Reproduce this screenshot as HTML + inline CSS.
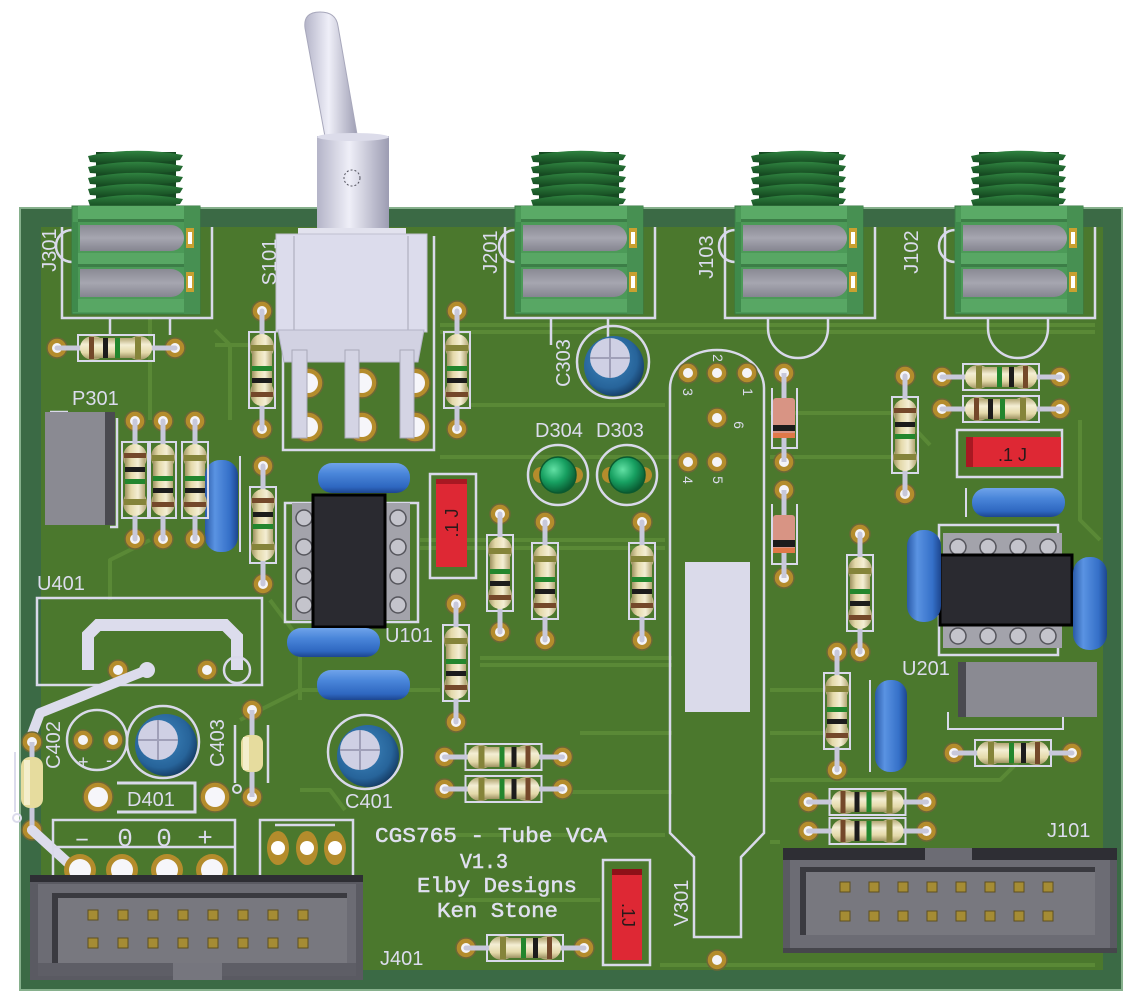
<!DOCTYPE html>
<html><head><meta charset="utf-8"><title>CGS765 - Tube VCA PCB</title>
<style>
html,body{margin:0;padding:0;background:#ffffff;overflow:hidden;}
svg{display:block;}
.s{fill:none;stroke:#d9d9ea;stroke-width:2.5;}
.t{font-family:"Liberation Sans",sans-serif;font-size:20px;fill:#dcdcee;}
.tr{fill:none;stroke:#5a8936;stroke-width:4;stroke-linejoin:round;}
.pin{fill:#a58c34;stroke:#5e5020;stroke-width:1;}
</style></head><body>
<svg width="1130" height="998" viewBox="0 0 1130 998" xmlns="http://www.w3.org/2000/svg">
<defs>
<linearGradient id="beige" x1="0" y1="0" x2="0" y2="1">
<stop offset="0" stop-color="#b3a774"/><stop offset=".35" stop-color="#f4eed4"/><stop offset=".7" stop-color="#e4d9aa"/><stop offset="1" stop-color="#9e9362"/>
</linearGradient>
<linearGradient id="bluH" x1="0" y1="0" x2="0" y2="1">
<stop offset="0" stop-color="#6fa3ea"/><stop offset=".35" stop-color="#4a86da"/><stop offset=".8" stop-color="#2e67c0"/><stop offset="1" stop-color="#1d468f"/>
</linearGradient>
<linearGradient id="bluV" x1="0" y1="0" x2="1" y2="0">
<stop offset="0" stop-color="#2a5aa8"/><stop offset=".3" stop-color="#5a93e2"/><stop offset=".75" stop-color="#3570c8"/><stop offset="1" stop-color="#1d468f"/>
</linearGradient>
<radialGradient id="elec" cx=".42" cy=".4" r=".62">
<stop offset="0" stop-color="#3f88c0"/><stop offset=".75" stop-color="#27649a"/><stop offset="1" stop-color="#163e68"/>
</radialGradient>
<radialGradient id="led" cx=".38" cy=".35" r=".65">
<stop offset="0" stop-color="#62e0a4"/><stop offset=".55" stop-color="#17a061"/><stop offset="1" stop-color="#0a5e34"/>
</radialGradient>
<linearGradient id="lev" x1="0" y1="0" x2="1" y2="0">
<stop offset="0" stop-color="#b4b4c8"/><stop offset=".45" stop-color="#efeff8"/><stop offset="1" stop-color="#9c9cb2"/>
</linearGradient>
<linearGradient id="slot" x1="0" y1="0" x2="0" y2="1">
<stop offset="0" stop-color="#8a8a94"/><stop offset=".5" stop-color="#a6a6b0"/><stop offset="1" stop-color="#858590"/>
</linearGradient>
<linearGradient id="thr" x1="0" y1="0" x2="0" y2="1">
<stop offset="0" stop-color="#2f8340"/><stop offset="1" stop-color="#154a20"/>
</linearGradient>

<g id="pad"><circle r="10" fill="#b48c2c" stroke="#6c6836" stroke-width="1.5"/><circle r="5" fill="#f4f4f8"/></g>
<g id="bpad"><circle r="15" fill="#b48c2c" stroke="#6c6836" stroke-width="1.5"/><circle r="10" fill="#f6f6fa"/></g>

<g id="rb">
<rect x="-38" y="-13" width="76" height="26" fill="none" stroke="#d9d9ea" stroke-width="2"/>
<use href="#pad" x="-59" y="0"/><use href="#pad" x="59" y="0"/>
<line x1="-59" y1="0" x2="59" y2="0" stroke="#c8c8da" stroke-width="5" stroke-linecap="round"/>
<ellipse cx="-23" cy="0" rx="13" ry="12" fill="url(#beige)"/>
<ellipse cx="23" cy="0" rx="13" ry="12" fill="url(#beige)"/>
<rect x="-24" y="-10" width="48" height="20" fill="url(#beige)"/>
</g>
<g id="rA"><use href="#rb"/>
<rect x="-27" y="-11" width="5" height="22" fill="#74482a"/>
<rect x="-13" y="-10" width="5" height="20" fill="#1c1c1c"/>
<rect x="-1" y="-10" width="5" height="20" fill="#23862e"/>
<rect x="19" y="-11" width="6" height="22" fill="#85843a"/>
</g>
<g id="rB"><use href="#rb"/>
<rect x="-25" y="-11" width="6" height="22" fill="#85843a"/>
<rect x="-4" y="-10" width="5" height="20" fill="#23862e"/>
<rect x="8" y="-10" width="5" height="20" fill="#1c1c1c"/>
<rect x="22" y="-11" width="5" height="22" fill="#74482a"/>
</g>

<g id="jack">
<rect x="24" y="152" width="80" height="56" fill="#164a22"/>
<path d="M16,156 Q63,146 111,155 L108,160 Q63,166 18,162 Z" fill="url(#thr)"/>
<path d="M16,167 Q63,157 111,166 L108,171 Q63,177 18,173 Z" fill="url(#thr)"/>
<path d="M16,178 Q63,168 111,177 L108,182 Q63,188 18,184 Z" fill="url(#thr)"/>
<path d="M16,189 Q63,179 111,188 L108,193 Q63,199 18,195 Z" fill="url(#thr)"/>
<path d="M16,200 Q63,190 111,199 L108,204 Q63,210 18,206 Z" fill="url(#thr)"/>
<rect x="0" y="206" width="128" height="108" fill="#4c9a58" stroke="#3a7a45" stroke-width="1"/>
<rect x="6" y="206" width="106" height="13" fill="#5aaa66"/>
<rect x="6" y="219" width="106" height="3" fill="#3c7e47"/>
<path d="M8,225 H99 a13,13 0 0 1 0,26 H8 Z" fill="url(#slot)"/>
<rect x="6" y="253" width="106" height="13" fill="#58a764"/>
<rect x="6" y="264" width="106" height="3" fill="#3c7e47"/>
<path d="M8,269 H99 a14,14 0 0 1 0,28 H8 Z" fill="url(#slot)"/>
<rect x="6" y="299" width="106" height="13" fill="#58a764"/>
<rect x="112" y="206" width="16" height="108" fill="#479052"/>
<rect x="114" y="228" width="8" height="20" fill="#c8a030"/><rect x="116" y="232" width="4" height="12" fill="#ffffff"/>
<rect x="114" y="272" width="8" height="20" fill="#c8a030"/><rect x="116" y="276" width="4" height="12" fill="#ffffff"/>
<rect x="0" y="222" width="6" height="90" fill="#3f8a4c"/>
</g>
</defs>

<!-- background -->
<rect x="0" y="0" width="1130" height="998" fill="#ffffff"/>

<!-- board -->
<rect x="20" y="208" width="1102" height="782" fill="#3b6a45" stroke="#86b08c" stroke-width="2"/>
<rect x="41" y="227" width="1062" height="743" fill="#4b782d"/>

<!-- traces -->
<g class="tr">
<path d="M440,325 H1095"/><path d="M440,332 H1095"/>
<path d="M215,345 L250,345"/>
<path d="M150,318 V420"/><path d="M215,330 L230,345 V420"/>
<path d="M440,457 H680"/><path d="M770,457 H900"/>
<path d="M470,405 H665"/>
<path d="M420,540 H665"/><path d="M420,548 H665"/>
<path d="M480,658 H672"/><path d="M480,665 H672"/>
<path d="M580,733 H672"/><path d="M770,733 H830"/>
<path d="M570,792 H672"/><path d="M770,780 H1000 L1040,740"/>
<path d="M440,835 H665"/><path d="M770,842 H780"/>
<path d="M460,900 H600"/><path d="M660,965 H1095"/>
<path d="M380,690 H440"/><path d="M270,600 L300,640 V700"/>
<path d="M770,413 H900 L930,445"/>
<path d="M770,690 H830"/>
<path d="M1080,420 V520 L1100,540"/>
<path d="M110,600 V560 L150,540"/>
<path d="M240,720 L300,690 H440"/>
<path d="M300,790 H330 L345,810"/>
</g>

<!-- jack silkscreen -->
<g class="s">
<path d="M62,227 V318 H212 V227"/>
<path d="M505,227 V318 H655 V227"/>
<path d="M725,227 V318 H875 V227"/>
<path d="M945,227 V318 H1095 V227"/>
<path d="M110,318 V335 M170,318 V335"/>
<path d="M551,318 V345 M608,318 V345"/>
<path d="M768,318 V328 A30,30 0 0 0 828,328 V318"/>
<path d="M988,318 V328 A30,30 0 0 0 1048,328 V318"/>
<path d="M72,230 A16,16 0 0 0 72,262"/>
<path d="M515,230 A16,16 0 0 0 515,262"/>
<path d="M735,230 A16,16 0 0 0 735,262"/>
<path d="M955,230 A16,16 0 0 0 955,262"/>
</g>

<!-- jacks -->
<use href="#jack" x="72" y="0"/>
<use href="#jack" x="515" y="0"/>
<use href="#jack" x="735" y="0"/>
<use href="#jack" x="955" y="0"/>

<!-- switch silkscreen and pads -->
<path class="s" d="M283,236 V450 H434 V236"/>
<use href="#bpad" x="308" y="383"/><use href="#bpad" x="362" y="383"/><use href="#bpad" x="415" y="383"/>
<use href="#bpad" x="308" y="427"/><use href="#bpad" x="362" y="427"/><use href="#bpad" x="415" y="427"/>

<!-- toggle switch -->
<path d="M305,28 Q303,12 320,12 Q336,12 338,26 L358,140 L326,142 Z" fill="url(#lev)" stroke="#a8a8bc" stroke-width="1"/>
<rect x="317" y="136" width="72" height="96" fill="url(#lev)"/>
<ellipse cx="353" cy="137" rx="36" ry="4" fill="#dcdcea"/>
<circle cx="352" cy="178" r="8" fill="none" stroke="#555560" stroke-width="1" stroke-dasharray="2 2"/>
<rect x="298" y="228" width="108" height="8" fill="#e2e2ee"/>
<rect x="276" y="234" width="151" height="98" fill="#dcdcec" stroke="#c0c0d0" stroke-width="1"/>
<line x1="294" y1="236" x2="294" y2="330" stroke="#b8b8c8" stroke-width="1.5"/>
<line x1="408" y1="236" x2="408" y2="330" stroke="#b8b8c8" stroke-width="1.5"/>
<path d="M278,330 H424 L418,362 H284 Z" fill="#d2d2e2" stroke="#b4b4c6" stroke-width="1"/>
<rect x="292" y="350" width="15" height="88" fill="#d4d4e4" stroke="#a8a8b8" stroke-width="1"/>
<rect x="345" y="350" width="14" height="88" fill="#d4d4e4" stroke="#a8a8b8" stroke-width="1"/>
<rect x="400" y="350" width="14" height="88" fill="#d4d4e4" stroke="#a8a8b8" stroke-width="1"/>

<!-- P301 -->
<path class="s" d="M50,412 H68 M117,418 V527 H110"/>
<rect x="45" y="412" width="60" height="113" fill="#8a8a92"/>
<rect x="105" y="412" width="10" height="113" fill="#4a4a50"/>

<!-- U401 -->
<rect class="s" x="37" y="598" width="225" height="87"/>
<path d="M88,670 V635 L98,625 H225 L237,637 V670" fill="none" stroke="#dcdcec" stroke-width="12"/>
<use href="#pad" x="118" y="670"/><use href="#pad" x="207" y="670"/>
<circle cx="237" cy="670" r="13" class="s"/>
<path d="M147,670 L40,713 L28,745" fill="none" stroke="#dcdcec" stroke-width="10" stroke-linecap="round" stroke-linejoin="round"/>
<circle cx="147" cy="670" r="8" fill="#dcdcec"/>

<!-- C402 footprint -->
<circle class="s" cx="97" cy="740" r="30"/>
<use href="#pad" x="83" y="740"/><use href="#pad" x="113" y="740"/>
<text class="t" x="78" y="768" style="font-size:18px">+</text>
<text class="t" x="106" y="766" style="font-size:18px">-</text>

<!-- C402 electrolytic -->
<circle class="s" cx="163" cy="742" r="36"/>
<circle cx="166" cy="745" r="31" fill="url(#elec)"/>
<circle cx="158" cy="740" r="20" fill="#cfd0e4"/>
<path d="M158,720 V760 M138,740 H178" stroke="#a0a0b8" stroke-width="2"/>

<!-- C403 -->
<path class="s" d="M235,725 V783 M268,725 V783"/>
<circle cx="237" cy="789" r="4" class="s" style="stroke-width:2"/>
<use href="#pad" x="252" y="710"/><use href="#pad" x="252" y="797"/>
<line x1="252" y1="710" x2="252" y2="797" stroke="#c8c8da" stroke-width="5"/>
<rect x="241" y="735" width="22" height="37" rx="8" fill="#e6dc9e"/>
<rect x="243" y="737" width="6" height="33" fill="#f4eecc"/>

<!-- D401 -->
<use href="#bpad" x="98" y="797"/><use href="#bpad" x="215" y="797"/>
<path class="s" d="M117,783 H195 V812 H117" style="stroke-width:3"/>
<text class="t" x="127" y="806">D401</text>

<!-- left edge resistor -->
<path d="M15,752 V812" stroke="#dcdcec" stroke-width="2"/>
<circle cx="17" cy="818" r="4" fill="none" stroke="#dcdcec" stroke-width="2"/>
<use href="#pad" x="32" y="742"/><use href="#pad" x="32" y="830"/>
<line x1="32" y1="742" x2="32" y2="830" stroke="#c8c8da" stroke-width="5"/>
<rect x="21" y="757" width="22" height="51" rx="9" fill="#e6dc9e"/>
<rect x="24" y="760" width="6" height="45" fill="#f4eecc"/>
<path d="M32,830 L78,872" stroke="#dcdcec" stroke-width="10" stroke-linecap="round"/>

<!-- C401 -->
<circle class="s" cx="365" cy="752" r="37"/>
<circle cx="368" cy="756" r="31" fill="url(#elec)"/>
<circle cx="360" cy="750" r="20" fill="#cfd0e4"/>
<path d="M360,730 V770 M340,750 H380" stroke="#a0a0b8" stroke-width="2"/>
<text class="t" x="345" y="808">C401</text>

<!-- power terminal -->
<path class="s" d="M53,878 V820 H235 V878 M53,847 H235"/>
<text x="82" y="846" font-family="Liberation Mono, monospace" font-size="26" fill="#dcdcee" text-anchor="middle">–</text>
<text x="125" y="846" font-family="Liberation Mono, monospace" font-size="26" fill="#dcdcee" text-anchor="middle">0</text>
<text x="164" y="846" font-family="Liberation Mono, monospace" font-size="26" fill="#dcdcee" text-anchor="middle">0</text>
<text x="205" y="846" font-family="Liberation Mono, monospace" font-size="26" fill="#dcdcee" text-anchor="middle">+</text>
<circle cx="80" cy="870" r="16" fill="#b48c2c"/><circle cx="80" cy="870" r="11" fill="#f6f6fa"/>
<circle cx="122" cy="870" r="16" fill="#b48c2c"/><circle cx="122" cy="870" r="11" fill="#f6f6fa"/>
<circle cx="167" cy="870" r="16" fill="#b48c2c"/><circle cx="167" cy="870" r="11" fill="#f6f6fa"/>
<circle cx="212" cy="870" r="16" fill="#b48c2c"/><circle cx="212" cy="870" r="11" fill="#f6f6fa"/>

<!-- 3 pin header -->
<path class="s" d="M260,878 V820 H353 V878 M275,825 H335"/>
<ellipse cx="278" cy="848" rx="11" ry="17" fill="#b48c2c"/><circle cx="278" cy="848" r="7" fill="#fff"/>
<ellipse cx="307" cy="848" rx="11" ry="17" fill="#b48c2c"/><circle cx="307" cy="848" r="7" fill="#fff"/>
<ellipse cx="335" cy="848" rx="11" ry="17" fill="#b48c2c"/><circle cx="335" cy="848" r="7" fill="#fff"/>

<!-- J401 connector -->
<rect x="30" y="875" width="333" height="105" fill="#5a5a62"/>
<rect x="30" y="875" width="333" height="7" fill="#2e2e34"/>
<rect x="38" y="884" width="318" height="92" fill="#6c6c74"/>
<rect x="52" y="893" width="295" height="70" fill="#78787f"/>
<rect x="52" y="893" width="295" height="5" fill="#3a3a40"/>
<rect x="52" y="893" width="6" height="70" fill="#3a3a40"/>
<rect x="38" y="963" width="135" height="13" fill="#5e5e66"/>
<rect x="222" y="963" width="134" height="13" fill="#5e5e66"/>
<rect x="173" y="963" width="49" height="17" fill="#76767e"/>
<g class="pin">
<rect x="88" y="910" width="10" height="10"/><rect x="118" y="910" width="10" height="10"/><rect x="148" y="910" width="10" height="10"/><rect x="178" y="910" width="10" height="10"/>
<rect x="208" y="910" width="10" height="10"/><rect x="238" y="910" width="10" height="10"/><rect x="268" y="910" width="10" height="10"/><rect x="298" y="910" width="10" height="10"/>
<rect x="88" y="938" width="10" height="10"/><rect x="118" y="938" width="10" height="10"/><rect x="148" y="938" width="10" height="10"/><rect x="178" y="938" width="10" height="10"/>
<rect x="208" y="938" width="10" height="10"/><rect x="238" y="938" width="10" height="10"/><rect x="268" y="938" width="10" height="10"/><rect x="298" y="938" width="10" height="10"/>
</g>
<text class="t" x="380" y="965">J401</text>

<!-- U101 -->
<rect class="s" x="285" y="503" width="133" height="119"/>
<rect x="292" y="503" width="118" height="117" fill="#a3a3ab"/>
<g fill="#c4c4cc" stroke="#55555c" stroke-width="1.5">
<circle cx="304" cy="518" r="8"/><circle cx="304" cy="547" r="8"/><circle cx="304" cy="576" r="8"/><circle cx="304" cy="605" r="8"/>
<circle cx="398" cy="518" r="8"/><circle cx="398" cy="547" r="8"/><circle cx="398" cy="576" r="8"/><circle cx="398" cy="605" r="8"/>
</g>
<rect x="313" y="495" width="72" height="132" fill="#2a2a30" stroke="#000" stroke-width="3"/>
<text class="t" x="385" y="642">U101</text>

<!-- blue caps -->
<rect x="318" y="463" width="92" height="30" rx="14" fill="url(#bluH)"/>
<rect x="287" y="628" width="93" height="29" rx="14" fill="url(#bluH)"/>
<rect x="317" y="670" width="93" height="30" rx="14" fill="url(#bluH)"/>
<rect x="972" y="488" width="93" height="29" rx="14" fill="url(#bluH)"/>
<rect x="205" y="460" width="33" height="92" rx="15" fill="url(#bluV)"/>
<rect x="875" y="680" width="32" height="92" rx="15" fill="url(#bluV)"/>
<path class="s" d="M240,456 V552 M870,680 V772 M966,488 V517" style="stroke-width:2"/>

<!-- red cap middle -->
<rect class="s" x="430" y="474" width="46" height="104"/>
<rect x="436" y="479" width="31" height="88" fill="#de2834"/>
<rect x="436" y="479" width="31" height="5" fill="#a81822"/>
<text x="0" y="0" transform="translate(458,523) rotate(-90)" font-family="Liberation Sans, sans-serif" font-size="18" fill="#2a1a1a" text-anchor="middle">.1 J</text>

<!-- C303 -->
<circle class="s" cx="613" cy="362" r="36"/>
<circle cx="614" cy="366" r="30" fill="url(#elec)"/>
<circle cx="610" cy="358" r="20" fill="#cfd0e4"/>
<path d="M610,338 V378 M590,358 H630" stroke="#a0a0b8" stroke-width="2"/>

<!-- LEDs -->
<circle class="s" cx="558" cy="475" r="30"/>
<circle class="s" cx="627" cy="475" r="30"/>
<circle cx="541" cy="475" r="8" fill="#b48c2c"/><circle cx="575" cy="475" r="8" fill="#b48c2c"/>
<circle cx="610" cy="475" r="8" fill="#b48c2c"/><circle cx="644" cy="475" r="8" fill="#b48c2c"/>
<circle cx="558" cy="475" r="18" fill="url(#led)" stroke="#0a5a30" stroke-width="1.5"/>
<circle cx="627" cy="475" r="18" fill="url(#led)" stroke="#0a5a30" stroke-width="1.5"/>
<text class="t" x="535" y="437">D304</text>
<text class="t" x="596" y="437">D303</text>

<!-- tube V301 -->
<path class="s" d="M670,388 A47,38 0 0 1 764,388 V833 L741,857 V937 H694 V857 L670,833 Z"/>
<use href="#pad" x="688" y="373"/><use href="#pad" x="717" y="373"/><use href="#pad" x="747" y="373"/>
<use href="#pad" x="717" y="418"/><use href="#pad" x="688" y="462"/><use href="#pad" x="717" y="462"/>
<g font-family="Liberation Sans, sans-serif" font-size="14" fill="#dcdcee" text-anchor="middle">
<text transform="translate(713,358) rotate(90)">2</text>
<text transform="translate(683,392) rotate(90)">3</text>
<text transform="translate(743,392) rotate(90)">1</text>
<text transform="translate(734,425) rotate(90)">6</text>
<text transform="translate(683,480) rotate(90)">4</text>
<text transform="translate(713,480) rotate(90)">5</text>
</g>
<rect x="685" y="562" width="65" height="150" fill="#dadaea"/>
<use href="#pad" x="717" y="960"/>
<text class="t" transform="translate(688,903) rotate(-90)" text-anchor="middle">V301</text>

<!-- diodes -->
<path class="s" d="M772,388 V448 H797 V388 M772,504 V564 H797 V504" style="stroke-width:2"/>
<use href="#pad" x="784" y="373"/><use href="#pad" x="784" y="462"/>
<use href="#pad" x="784" y="490"/><use href="#pad" x="784" y="578"/>
<line x1="784" y1="373" x2="784" y2="462" stroke="#c8c8da" stroke-width="5"/>
<line x1="784" y1="490" x2="784" y2="578" stroke="#c8c8da" stroke-width="5"/>
<rect x="773" y="398" width="22" height="40" rx="3" fill="#d89484"/>
<rect x="773" y="425" width="22" height="6" fill="#1c1c1c"/>
<rect x="773" y="433" width="22" height="5" fill="#e07848"/>
<rect x="773" y="515" width="22" height="38" rx="3" fill="#d89484"/>
<rect x="773" y="540" width="22" height="7" fill="#1c1c1c"/>
<rect x="773" y="548" width="22" height="5" fill="#e07848"/>

<!-- red cap top right -->
<rect class="s" x="957" y="430" width="105" height="47"/>
<rect x="966" y="437" width="95" height="30" fill="#de2834"/>
<rect x="966" y="437" width="7" height="30" fill="#a81822"/>
<text x="998" y="461" font-family="Liberation Sans, sans-serif" font-size="18" fill="#2a1a1a">.1 J</text>

<!-- U201 -->
<rect class="s" x="939" y="525" width="119" height="130"/>
<rect x="943" y="533" width="119" height="115" fill="#a3a3ab"/>
<g fill="#c4c4cc" stroke="#55555c" stroke-width="1.5">
<circle cx="958" cy="547" r="8"/><circle cx="988" cy="547" r="8"/><circle cx="1018" cy="547" r="8"/><circle cx="1048" cy="547" r="8"/>
<circle cx="958" cy="636" r="8"/><circle cx="988" cy="636" r="8"/><circle cx="1018" cy="636" r="8"/><circle cx="1048" cy="636" r="8"/>
</g>
<rect x="940" y="555" width="132" height="70" fill="#2a2a30" stroke="#000" stroke-width="3"/>
<rect x="907" y="530" width="34" height="92" rx="16" fill="url(#bluV)"/>
<rect x="1073" y="557" width="34" height="93" rx="16" fill="url(#bluV)"/>
<text class="t" x="902" y="675">U201</text>

<!-- grey block right -->
<path class="s" d="M948,712 V729 H1063 V712" style="stroke-width:2"/>
<rect x="958" y="662" width="139" height="55" fill="#8a8a92"/>
<rect x="958" y="662" width="8" height="55" fill="#4a4a50"/>

<!-- J101 connector -->
<rect x="783" y="848" width="334" height="105" fill="#5a5a62"/>
<rect x="783" y="848" width="142" height="12" fill="#2e2e34"/>
<rect x="972" y="848" width="145" height="12" fill="#2e2e34"/>
<rect x="925" y="848" width="47" height="12" fill="#6c6c74"/>
<rect x="790" y="860" width="320" height="88" fill="#6c6c74"/>
<rect x="800" y="867" width="295" height="68" fill="#78787f"/>
<rect x="800" y="867" width="295" height="5" fill="#3a3a40"/>
<rect x="800" y="867" width="6" height="68" fill="#3a3a40"/>
<rect x="783" y="948" width="334" height="5" fill="#46464c"/>
<g class="pin">
<rect x="840" y="882" width="10" height="10"/><rect x="869" y="882" width="10" height="10"/><rect x="898" y="882" width="10" height="10"/><rect x="927" y="882" width="10" height="10"/>
<rect x="956" y="882" width="10" height="10"/><rect x="985" y="882" width="10" height="10"/><rect x="1014" y="882" width="10" height="10"/><rect x="1043" y="882" width="10" height="10"/>
<rect x="840" y="911" width="10" height="10"/><rect x="869" y="911" width="10" height="10"/><rect x="898" y="911" width="10" height="10"/><rect x="927" y="911" width="10" height="10"/>
<rect x="956" y="911" width="10" height="10"/><rect x="985" y="911" width="10" height="10"/><rect x="1014" y="911" width="10" height="10"/><rect x="1043" y="911" width="10" height="10"/>
</g>
<text class="t" x="1047" y="837">J101</text>

<!-- bottom red cap -->
<rect class="s" x="603" y="860" width="47" height="105"/>
<rect x="612" y="869" width="30" height="91" fill="#de2834"/>
<rect x="612" y="869" width="30" height="6" fill="#8e1018"/>
<text x="0" y="0" transform="translate(622,915) rotate(90)" font-family="Liberation Sans, sans-serif" font-size="18" fill="#2a1a1a" text-anchor="middle">.1J</text>

<!-- resistors horizontal -->
<use href="#rA" transform="translate(116,348)"/>
<use href="#rB" transform="translate(1001,377)"/>
<use href="#rA" transform="translate(1001,409)"/>
<use href="#rB" transform="translate(503.5,757)"/>
<use href="#rB" transform="translate(503.5,789)"/>
<use href="#rB" transform="translate(525,948)"/>
<use href="#rB" transform="translate(1013,753)"/>
<use href="#rA" transform="translate(867.5,802)"/>
<use href="#rA" transform="translate(867.5,831)"/>
<!-- resistors vertical -->
<use href="#rB" transform="translate(262,370) rotate(90)"/>
<use href="#rB" transform="translate(457,370) rotate(90)"/>
<use href="#rA" transform="translate(135,480) rotate(90)"/>
<use href="#rB" transform="translate(163,480) rotate(90)"/>
<use href="#rB" transform="translate(195,480) rotate(90)"/>
<use href="#rA" transform="translate(263,525) rotate(90)"/>
<use href="#rB" transform="translate(500,573) rotate(90)"/>
<use href="#rB" transform="translate(545,581) rotate(90)"/>
<use href="#rB" transform="translate(642,581) rotate(90)"/>
<use href="#rB" transform="translate(456,663) rotate(90)"/>
<use href="#rA" transform="translate(905,435) rotate(90)"/>
<use href="#rB" transform="translate(860,593) rotate(90)"/>
<use href="#rB" transform="translate(837,711) rotate(90)"/>

<!-- labels -->
<text class="t" transform="translate(56,250) rotate(-90)" text-anchor="middle">J301</text>
<text class="t" transform="translate(276,262) rotate(-90)" text-anchor="middle">S101</text>
<text class="t" transform="translate(497,252) rotate(-90)" text-anchor="middle">J201</text>
<text class="t" transform="translate(713,257) rotate(-90)" text-anchor="middle">J103</text>
<text class="t" transform="translate(918,252) rotate(-90)" text-anchor="middle">J102</text>
<text class="t" transform="translate(570,363) rotate(-90)" text-anchor="middle">C303</text>
<text class="t" transform="translate(60,745) rotate(-90)" text-anchor="middle">C402</text>
<text class="t" transform="translate(224,743) rotate(-90)" text-anchor="middle">C403</text>
<text class="t" x="72" y="405">P301</text>
<text class="t" x="37" y="590">U401</text>

<!-- title block -->
<g font-family="Liberation Mono, monospace" font-size="21" fill="#e0e0f0" stroke="#e0e0f0" stroke-width="0.5">
<text x="375" y="842" textLength="232" lengthAdjust="spacingAndGlyphs">CGS765 - Tube VCA</text>
<text x="460" y="868" textLength="48" lengthAdjust="spacingAndGlyphs">V1.3</text>
<text x="417" y="892" textLength="160" lengthAdjust="spacingAndGlyphs">Elby Designs</text>
<text x="437" y="917" textLength="121" lengthAdjust="spacingAndGlyphs">Ken Stone</text>
</g>
</svg>
</body></html>
